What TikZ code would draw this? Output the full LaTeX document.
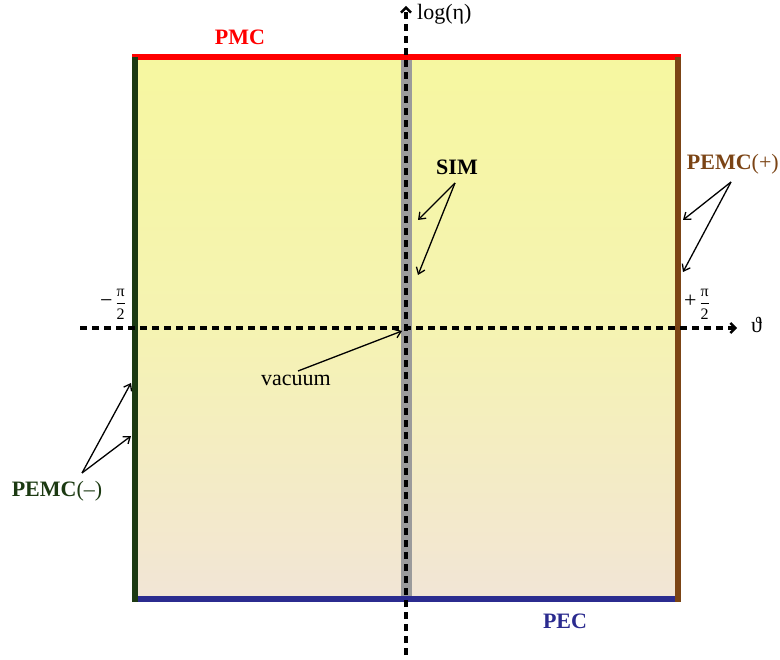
\documentclass[tikz,border=0pt]{standalone}
\usepackage{fontspec}
\setmainfont{Liberation Serif}
\usetikzlibrary{arrows.meta}
\definecolor{pmcred}{HTML}{FF0000}
\definecolor{pecblue}{HTML}{2B2B8F}
\definecolor{pemcgreen}{HTML}{1C3A12}
\definecolor{pemcbrown}{HTML}{7B4415}
\definecolor{topyel}{HTML}{F6F7A0}
\definecolor{midyel}{HTML}{F5F3B2}
\definecolor{botbeige}{HTML}{F2E5D6}
\definecolor{simgray}{HTML}{9B9B9B}
\newcommand{\bigsign}[1]{\mbox{\fontsize{22}{24}\selectfont #1}}
\tikzset{
  lbl/.style={font=\fontsize{22}{24}\selectfont, inner sep=1pt},
  blbl/.style={font=\fontsize{22}{24}\selectfont\bfseries, inner sep=1pt},
  fraclbl/.style={font=\fontsize{16}{18}\selectfont, inner sep=1pt},
  axis/.style={line width=3.2pt, dash pattern=on 7pt off 5pt, -{Straight Barb[length=5pt,width=10pt,line width=2.4pt]}},
  pointer/.style={line width=1.3pt, -{Straight Barb[length=6pt,width=9pt]}},
  border/.style={line width=6pt}
}
\begin{document}
\begin{tikzpicture}[x=1pt,y=-1pt]
\useasboundingbox (0,0) rectangle (780,660);
% background field
\shade[top color=topyel, bottom color=botbeige, middle color=midyel] (135,57) rectangle (678,599);
% SIM strip
\fill[simgray] (401,57) rectangle (412,599);
% borders
\draw[border, pmcred] (132,57) -- (681,57);
\draw[border, pecblue] (132,599) -- (681,599);
\draw[border, pemcgreen] (135,57) -- (135,602);
\draw[border, pemcbrown] (678,57) -- (678,602);
% axes
\coordinate (ybot) at (406,655);
\coordinate (ytop) at (406,6);
\coordinate (xl) at (80,328);
\coordinate (xr) at (737,328);
\draw[axis] (xl) -- (xr);
\draw[axis] (ybot) -- (ytop);
\node[lbl, anchor=west] (logeta) at (416,14) {log(η)};
\node[lbl, anchor=west] (theta) at (750,325) {ϑ};
\node[fraclbl, anchor=south] (mpi) at (113,321) {$\displaystyle\bigsign{−}\,\frac{\mbox{π}}{\mbox{2}}$};
\node[fraclbl, anchor=south] (ppi) at (697,321) {$\displaystyle\bigsign{+}\,\frac{\mbox{π}}{\mbox{2}}$};
% boundary labels
\node[blbl, text=pmcred] (pmc) at (240,37) {PMC};
\node[blbl, text=pecblue] (pec) at (565,621) {PEC};
\node[blbl, text=pemcbrown, anchor=east] (pemcp) at (780,164) {PEMC\mdseries(+)};
\node[blbl, text=pemcgreen] (pemcm) at (57,491) {PEMC\mdseries(–)};
\node[blbl] (sim) at (457,167) {SIM};
\node[lbl] (vac) at (296,380) {vacuum};
% pointer targets
\coordinate (simA) at (418,220);
\coordinate (simB) at (418,275);
\coordinate (ppA) at (683,220);
\coordinate (ppB) at (683,272);
\coordinate (pmA) at (131,383);
\coordinate (pmB) at (131,436);
\coordinate (vacT) at (402,331);
\coordinate (simS) at (455,183);
\coordinate (ppS) at (731,182);
\coordinate (pmS) at (82,473);
\coordinate (vacS) at (298,371);
\draw[pointer] (simS) -- (simA);
\draw[pointer] (simS) -- (simB);
\draw[pointer] (ppS) -- (ppA);
\draw[pointer] (ppS) -- (ppB);
\draw[pointer] (pmS) -- (pmA);
\draw[pointer] (pmS) -- (pmB);
\draw[pointer] (vacS) -- (vacT);
\end{tikzpicture}
\end{document}
